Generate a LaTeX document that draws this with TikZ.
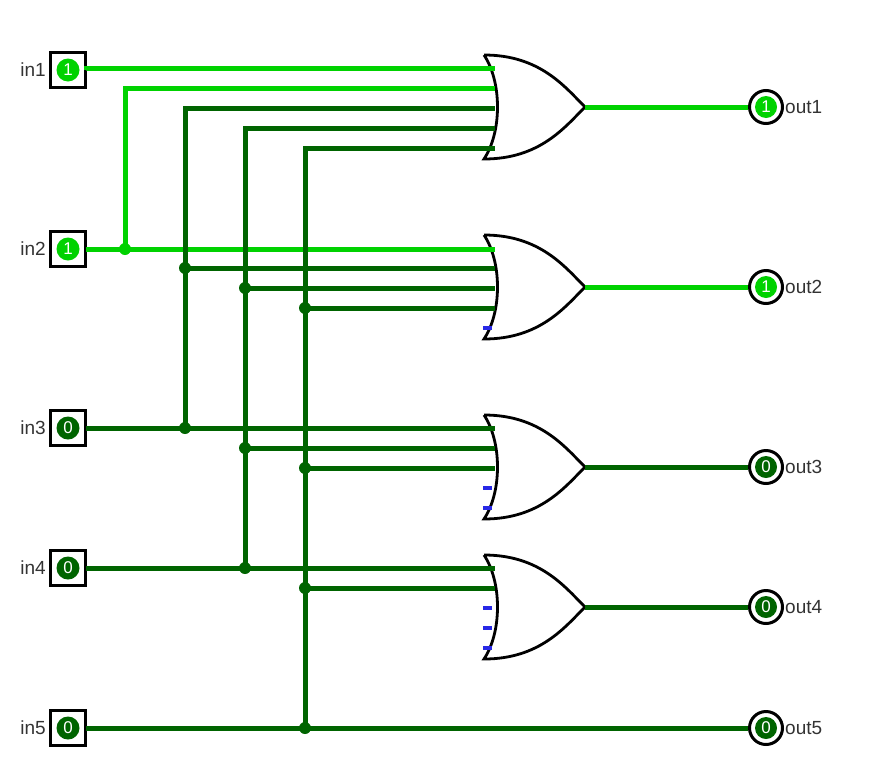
\documentclass[tikz,border=0pt]{standalone}
\usepackage{fontspec}
\setmainfont{Liberation Sans}
\definecolor{on}{RGB}{0,210,0}
\definecolor{off}{RGB}{0,100,0}
\definecolor{unc}{RGB}{40,40,230}
\begin{document}
\begin{tikzpicture}[x=1pt,y=-1pt,
  w/.style={line width=5pt},
  inbox/.style={draw=black,line width=3.5pt,minimum size=35pt,inner sep=0pt,fill=white},
  led/.style={circle,fill=#1,minimum size=23pt,inner sep=0pt,text=white,font=\fontsize{17}{17}\selectfont},
  outc/.style={circle,draw=black,line width=3pt,minimum size=33pt,inner sep=0pt,fill=white},
  lbl/.style={font=\fontsize{19}{19}\selectfont,inner sep=0pt,text=black!80},
  dot/.style={circle,fill=#1,minimum size=12pt,inner sep=0pt},
  gate/.style={draw=black,line width=2.8pt,fill=white}]
\useasboundingbox (0,0) rectangle (874,782);
% inputs
\foreach \i/\y/\c/\v in {1/70/on/1,2/249/on/1,3/428/off/0,4/568/off/0,5/728/off/0}{
  \node[inbox] (box\i) at (68,\y) {};
  \node[led=\c] (in\i) at (68,\y) {\v};
  \node[lbl,anchor=east] (lin\i) at (46,\y) {in\i};
  \coordinate (p\i) at (86,\y);
}
% gates
\foreach \g/\t in {1/55,2/235,3/415,4/555}{
  \pgfmathsetmacro\b{\t+104}\pgfmathsetmacro\m{\t+52}
  \draw[gate] (484,\t) .. controls (540,\t) and (565,\m-20) .. (585,\m)
     .. controls (565,\m+20) and (540,\b) .. (484,\b)
     .. controls (502,\m+25) and (502,\m-25) .. (484,\t);
  \coordinate (g\g) at (585,\m);
}
% outputs
\foreach \i/\y/\c/\v in {1/107/on/1,2/287/on/1,3/467/off/0,4/607/off/0,5/728/off/0}{
  \node[outc] (oc\i) at (766,\y) {};
  \node[led=\c,minimum size=22pt] (out\i) at (766,\y) {\v};
  \node[lbl,anchor=west] (lout\i) at (785,\y) {out\i};
}
% junction coordinates
\foreach \x/\n in {125/a,185/b,245/c,305/d}{
  \foreach \y in {68,88,108,128,148,249,268,288,308,428,448,468,568,588,728}{
    \coordinate (\n\y) at (\x,\y);}}
\foreach \y in {68,88,108,128,148,249,268,288,308,428,448,468,568,588}{\coordinate (e\y) at (495,\y);}
% wires in1, in2
\draw[w,on] (p1) -- (86,68) -- (e68);
\draw[w,on] (p2) -- (e249);
\draw[w,on] (a249) -- (a88) -- (e88);
\draw[w,on] (g1) -- (oc1.west);
\draw[w,on] (g2) -- (oc2.west);
% in3
\draw[w,off] (p3) -- (e428);
\draw[w,off] (b428) -- (b108) -- (e108);
\draw[w,off] (b268) -- (e268);
% in4
\draw[w,off] (p4) -- (e568);
\draw[w,off] (c568) -- (c128) -- (e128);
\draw[w,off] (c288) -- (e288);
\draw[w,off] (c448) -- (e448);
% in5
\draw[w,off] (p5) -- (oc5.west);
\draw[w,off] (d728) -- (d148) -- (e148);
\draw[w,off] (d308) -- (e308);
\draw[w,off] (d468) -- (e468);
\draw[w,off] (d588) -- (e588);
\draw[w,off] (g3) -- (oc3.west);
\draw[w,off] (g4) -- (oc4.west);
% junction dots
\node[dot=on] at (a249) {};
\foreach \p in {b268,b428,c288,c448,c568,d308,d468,d588,d728}{\node[dot=off] at (\p) {};}
% unconnected inputs
\foreach \y in {328,488,508,608,628,648}{\draw[unc,line width=4.5pt] (483,\y) -- (492,\y);}
\end{tikzpicture}
\end{document}
